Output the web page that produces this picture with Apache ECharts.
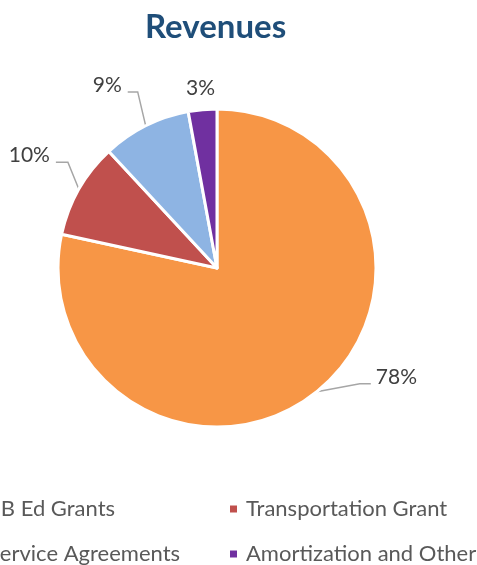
<!DOCTYPE html>
<html>
<head>
<meta charset="utf-8">
<script src="https://cdn.jsdelivr.net/npm/echarts@6/dist/echarts.min.js"></script>
<style>
    html, body { margin: 0; padding: 0; background: #fff; }
    #chart { width: 477px; height: 565px; }
</style>
</head>
<body>
<div id="chart"></div>
<script>
// 数据（占比，从扇区角度估读）
const categories = ['NB Ed Grants', 'Transportation Grant', 'Service Agreements', 'Amortization and Other']
const shares = [78.4, 9.7, 9.0, 2.9]
const colors = ['#F79646', '#C0504D', '#8EB4E3', '#7030A0']

// 引导线相对扇区边缘点的偏移：[拐点dx, 拐点dy, 终点dx, 终点dy]
const guideOffset = [[43, -8, 54, -8], [-11, -27, -23, -27], [-8, -34, -18, -34], [-2, -14, -2, -14]]
// 图例位置 [left, top]
const legendPos = [[-34, 498], [228, 498], [-30, 543], [228, 543]]

const chartInstance = echarts.init(document.getElementById('chart'))

const options = {
    title: {
        text: 'Revenues',
        left: 140,
        top: 6,
        textStyle: {
            fontFamily: 'Lato',
            fontSize: 33,
            fontWeight: 'bold',
            color: '#1F4E79'
        }
    },
    legend: categories.map((name, i) => ({
        left: legendPos[i][0],
        top: legendPos[i][1],
        padding: 0,
        itemWidth: 9,
        itemHeight: 9,
        icon: 'rect',
        data: [name],
        textStyle: {
            fontFamily: 'Lato',
            fontSize: 22,
            color: '#595959',
            padding: [0, 0, 0, 3]
        }
    })),
    series: [
        {
            type: 'pie',
            center: [217, 268],
            radius: 159,
            startAngle: 90,
            clockwise: true,
            data: categories.map((name, i) => ({
                name: name,
                value: shares[i],
                itemStyle: { color: colors[i] },
                labelLine: i === 3 ? { lineStyle: { opacity: 0 } } : undefined
            })),
            itemStyle: {
                borderColor: '#fff',
                borderWidth: 3
            },
            label: {
                show: true,
                formatter: p => Math.round(p.percent) + '%',
                fontFamily: 'Lato',
                fontSize: 21,
                color: '#404040',
                overflow: 'none'
            },
            labelLine: {
                show: true,
                length: 18,
                length2: 14,
                lineStyle: { color: '#A6A6A6', width: 1.5 }
            },
            labelLayout: params => {
                const i = params.dataIndex
                const o = guideOffset[i]
                const p0 = params.labelLinePoints[0]
                const bend = [p0[0] + o[0], p0[1] + o[1]]
                const end = [p0[0] + o[2], p0[1] + o[3]]
                const toRight = o[2] > 0
                return {
                    x: i === 3 ? end[0] : end[0] + (toRight ? 5 : -6),
                    y: end[1] - 7,
                    align: i === 3 ? 'center' : (toRight ? 'left' : 'right'),
                    verticalAlign: 'middle',
                    labelLinePoints: [p0, bend, end]
                }
            },
            emphasis: { disabled: true }
        }
    ]
}

chartInstance.setOption(options)
</script>
</body>
</html>
